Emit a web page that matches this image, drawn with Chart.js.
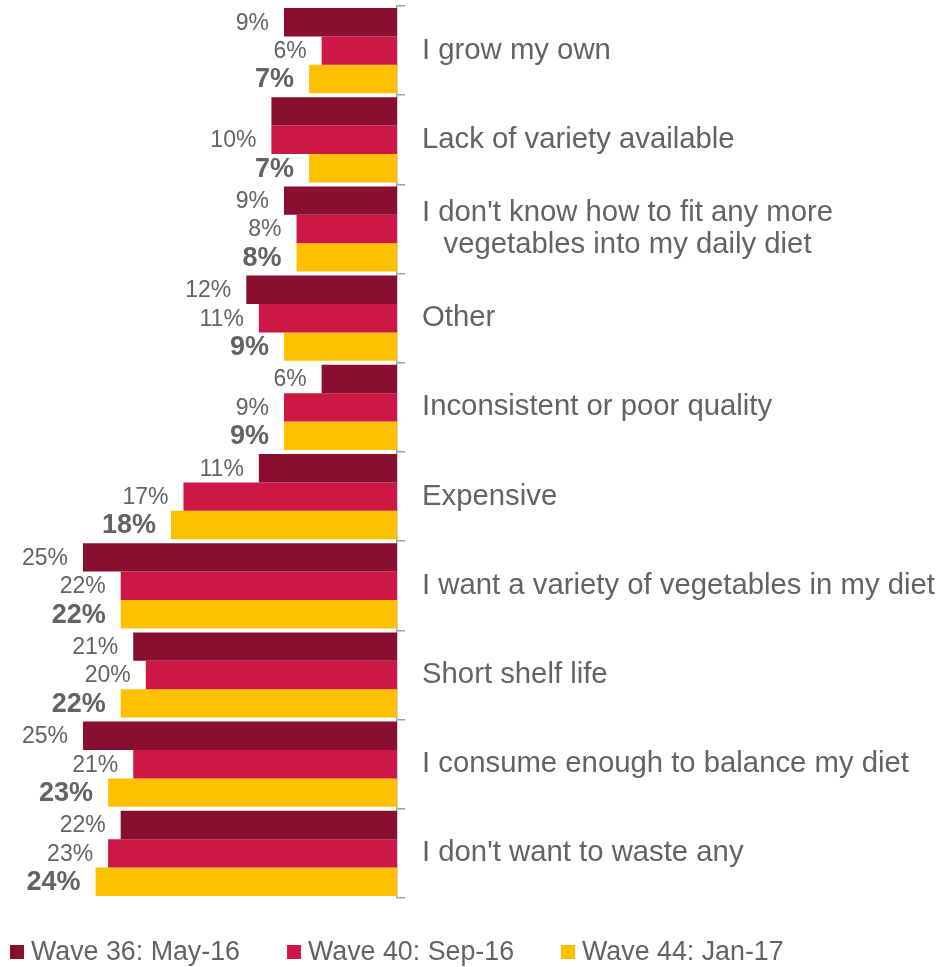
<!DOCTYPE html>
<html>
<head>
<meta charset="utf-8">
<script src="https://cdn.jsdelivr.net/npm/chart.js@4/dist/chart.umd.min.js"></script>
<style>
  html, body { margin: 0; padding: 0; background: #fff; }
  #wrap { width: 945px; height: 967px; position: relative; }
</style>
</head>
<body>
<div id="wrap"><canvas id="chart"></canvas></div>
<script>
// categories, top to bottom
const categories = [
  'I grow my own',
  'Lack of variety available',
  ["I don't know how to fit any more", 'vegetables into my daily diet'],
  'Other',
  'Inconsistent or poor quality',
  'Expensive',
  'I want a variety of vegetables in my diet',
  'Short shelf life',
  'I consume enough to balance my diet',
  "I don't want to waste any"
];
const wave36 = [9, 10, 9, 12, 6, 11, 25, 21, 25, 22];
const wave40 = [6, 10, 8, 11, 9, 17, 22, 20, 21, 23];
const wave44 = [7, 7, 8, 9, 9, 18, 22, 22, 23, 24];
const seriesNames = ['Wave 36: May-16', 'Wave 40: Sep-16', 'Wave 44: Jan-17'];
// value labels that are not shown in the original (dataset index, category index)
const hiddenLabels = [[0, 1]];

const textGrey = '#636363';
const fontFamily = '"Liberation Sans", Arial, sans-serif';

// draws the % labels at the outer end of each bar
const valueLabels = {
  id: 'valueLabels',
  afterDatasetsDraw(chart) {
    const ctx = chart.ctx;
    ctx.save();
    ctx.textAlign = 'right';
    ctx.textBaseline = 'middle';
    ctx.fillStyle = textGrey;
    chart.data.datasets.forEach((ds, di) => {
      const bold = di === 2;
      ctx.font = (bold ? 'bold 27px ' : '23px ') + fontFamily;
      chart.getDatasetMeta(di).data.forEach((bar, i) => {
        if (hiddenLabels.some(h => h[0] === di && h[1] === i)) return;
        ctx.fillText(ds.data[i] + '%', bar.x - 15, bar.y + 1);
      });
    });
    ctx.restore();
  }
};

// category names on the right, each block centred on its row
const categoryLabels = {
  id: 'categoryLabels',
  afterDraw(chart) {
    const ctx = chart.ctx;
    const y = chart.scales.y;
    ctx.save();
    ctx.font = '29.3px ' + fontFamily;
    ctx.fillStyle = textGrey;
    ctx.textBaseline = 'middle';
    categories.forEach((label, i) => {
      const cy = y.getPixelForValue(i);
      const lines = Array.isArray(label) ? label : [label];
      const widths = lines.map(l => ctx.measureText(l).width);
      const maxW = Math.max(...widths);
      const x0 = 422;
      const lh = 32;
      lines.forEach((l, k) => {
        const ly = cy + (k - (lines.length - 1) / 2) * lh;
        ctx.fillText(l, x0 + (maxW - widths[k]) / 2, ly);
      });
    });
    ctx.restore();
  }
};

// legend along the bottom, starting at the left edge
const bottomLegend = {
  id: 'bottomLegend',
  afterDraw(chart) {
    const ctx = chart.ctx;
    ctx.save();
    ctx.font = '26.8px ' + fontFamily;
    ctx.textBaseline = 'middle';
    let x = 10;
    const cy = 952;
    chart.data.datasets.forEach(ds => {
      ctx.fillStyle = ds.backgroundColor;
      ctx.fillRect(x, cy - 7, 14, 14);
      ctx.fillStyle = textGrey;
      ctx.fillText(ds.label, x + 21, cy + 1);
      x += 21 + ctx.measureText(ds.label).width + 47;
    });
    ctx.restore();
  }
};

new Chart(document.getElementById('chart'), {
  type: 'bar',
  data: {
    labels: categories,
    datasets: [
      { label: seriesNames[0], data: wave36, backgroundColor: '#8A0E2F' },
      { label: seriesNames[1], data: wave40, backgroundColor: '#CD1745' },
      { label: seriesNames[2], data: wave44, backgroundColor: '#FFC000' }
    ]
  },
  options: {
    indexAxis: 'y',
    responsive: true,
    maintainAspectRatio: false,
    animation: false,
    layout: { padding: { left: 83, top: 6, bottom: 69, right: 0 } },
    datasets: {
      bar: { barPercentage: 1, categoryPercentage: 0.955, borderWidth: 0 }
    },
    scales: {
      x: { display: false, reverse: true, min: 0, max: 25 },
      y: {
        position: 'right',
        ticks: { display: false },
        grid: {
          drawOnChartArea: false,
          drawTicks: true,
          tickLength: 8,
          color: '#a0a0a0',
          lineWidth: 1.5
        },
        border: { display: true, color: '#a0a0a0', width: 1.5 },
        afterFit(scale) { scale.width = 548; }
      }
    },
    plugins: {
      legend: { display: false },
      tooltip: { enabled: false }
    }
  },
  plugins: [valueLabels, categoryLabels, bottomLegend]
});
</script>
</body>
</html>
